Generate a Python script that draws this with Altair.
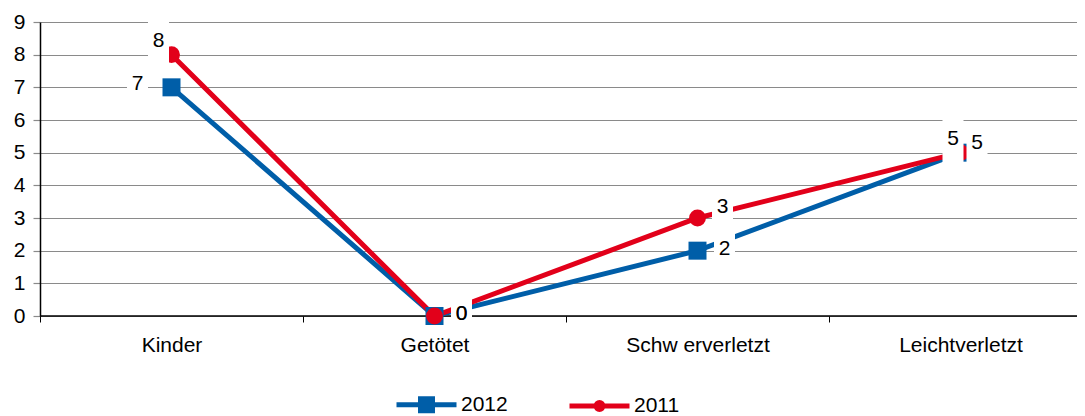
import json
import altair as alt
import pandas as pd

# ---------------- data ----------------
categories = ["Kinder", "Getötet", "Schw erverletzt", "Leichtverletzt"]
series_names = ["2012", "2011"]
values_2012 = [7, 0, 2, 5]
values_2011 = [8, 0, 3, 5]
label_pos_2012 = ["left", "right", "right", "above_left"]
label_pos_2011 = ["above", "right", "right_up", "above_right"]
y_ticks = list(range(10))
baseline_value = [0]

# ---------------- style / layout ----------------
BLUE = "#005EA8"
RED = "#E2001A"
GRID = "#8a8a8a"
FONT = "Liberation Sans"
FS = 21
PLOT_W = 1037          # visible plot width (page body is 1069 px wide)
BAND = 263             # width of one category band (last band runs past the page)

# label placement (pixel offsets of label glyph centre from its point)
PLACE = {
    "left": (-34, -4.5),
    "above": (-13, -15),
    "right": (27, -3),
    "right_up": (25, -12.5),
    "above_left": (-7.5, -15),
    "above_right": (16.5, -10.5),
}

rows = []
for s, vals, poss in [("2012", values_2012, label_pos_2012),
                      ("2011", values_2011, label_pos_2011)]:
    for c, v, p in zip(categories, vals, poss):
        rows.append({"category": c, "series": s, "value": v, "pos": p})
df = pd.DataFrame(rows)

cat_js = json.dumps(categories, ensure_ascii=False)
n = len(categories)
x_axis_values = [i * 0.5 for i in range(2 * n)]   # band edges and band centres

X = alt.X(
    "idx:Q",
    scale=alt.Scale(domain=[0, PLOT_W / BAND], nice=False, zero=False),
    axis=alt.Axis(
        title=None, values=x_axis_values, labelAngle=0, domain=False, grid=False,
        tickColor="black", tickSize=6, tickWidth=1,
        tickOpacity={"condition": {"test": "datum.value % 1 === 0", "value": 1}, "value": 0},
        labelExpr=f"datum.value % 1 === 0 ? '' : {cat_js}[floor(datum.value)]",
        labelOverlap=False, labelFlush=False, labelBound=False,
        labelPadding=12, zindex=1, labelFont=FONT, labelFontSize=FS,
        labelColor="black"),
)
Y = alt.Y(
    "value:Q",
    scale=alt.Scale(domain=[0, 9], nice=False, zero=True),
    axis=alt.Axis(title=None, values=y_ticks, grid=True, gridColor=GRID, gridWidth=1.2,
                  domainColor="black", domainWidth=1.5, tickColor=GRID, tickSize=7,
                  tickWidth=1.2, labelPadding=8, labelFont=FONT, labelFontSize=FS,
                  labelColor="black", format="d"),
)

base = alt.Chart(df).transform_calculate(
    idx=f"indexof({cat_js}, datum.category) + 0.5"
).encode(x=X, y=Y)

layers = []

# baseline (value 0)
baseline = alt.Chart(pd.DataFrame({"value": baseline_value})).mark_rule(
    color="black", strokeWidth=1.5).encode(y=Y)
layers.append(baseline)

# lines
for s, col in [("2012", BLUE), ("2011", RED)]:
    layers.append(
        base.transform_filter(alt.datum.series == s).mark_line(color=col, strokeWidth=5)
    )

# markers
layers.append(
    base.transform_filter(alt.datum.series == "2012").mark_point(
        shape="square", filled=True, color=BLUE, size=324, opacity=1, strokeWidth=0)
)
layers.append(
    base.transform_filter(alt.datum.series == "2011").mark_point(
        shape="circle", filled=True, color=RED, size=284, opacity=1, strokeWidth=0)
)

# white label boxes
BOX = "M-0.4375,-1H0.4375V1H-0.4375Z"
for s in series_names:
    for p, (dx, dy) in PLACE.items():
        layers.append(
            base.transform_filter((alt.datum.series == s) & (alt.datum.pos == p)).mark_point(
                shape=BOX, filled=True, color="white", size=2304, opacity=1,
                strokeWidth=0, xOffset=dx, yOffset=dy + 5)
        )

# label texts
for s in series_names:
    for p, (dx, dy) in PLACE.items():
        layers.append(
            base.transform_filter((alt.datum.series == s) & (alt.datum.pos == p)).mark_text(
                dx=dx, dy=dy + 1.2, font=FONT, fontSize=FS, color="black",
                align="center", baseline="middle").encode(text=alt.Text("value:Q", format="d"))
        )

# legend (line + marker symbols)
SYM_SQ = ("M-1,0H1M-0.283,-0.2H0.283M-0.283,-0.067H0.283"
          "M-0.283,0.067H0.283M-0.283,0.2H0.283")
SYM_CI = ("M-1,0H1M-0.117,0A0.117,0.117 0 1,0 0.117,0"
          "A0.117,0.117 0 1,0 -0.117,0ZM-0.06,0H0.06")

def make_legend():
    return alt.Legend(title=None, orient="none", legendX=354, legendY=350,
                      direction="horizontal", symbolSize=3600, symbolStrokeWidth=5,
                      labelFont=FONT, labelFontSize=FS, labelColor="black",
                      labelOffset=2, columnPadding=51)

legend_layer = base.transform_filter("false").mark_point(
    filled=False, opacity=1, strokeWidth=5
).encode(
    color=alt.Color("series:N", scale=alt.Scale(domain=series_names, range=[BLUE, RED]),
                    legend=make_legend()),
    shape=alt.Shape("series:N", scale=alt.Scale(domain=series_names, range=[SYM_SQ, SYM_CI]),
                    legend=make_legend()),
)
layers.append(legend_layer)

chart = alt.layer(*layers).properties(
    width=PLOT_W,
    height=294,
    padding={"left": 32, "top": 14, "right": 0, "bottom": 100},
    autosize=alt.AutoSizeParams(type="none"),
    background="white",
).configure_view(stroke=None)

chart.save("out.html", embed_options={"renderer": "svg", "actions": False})
